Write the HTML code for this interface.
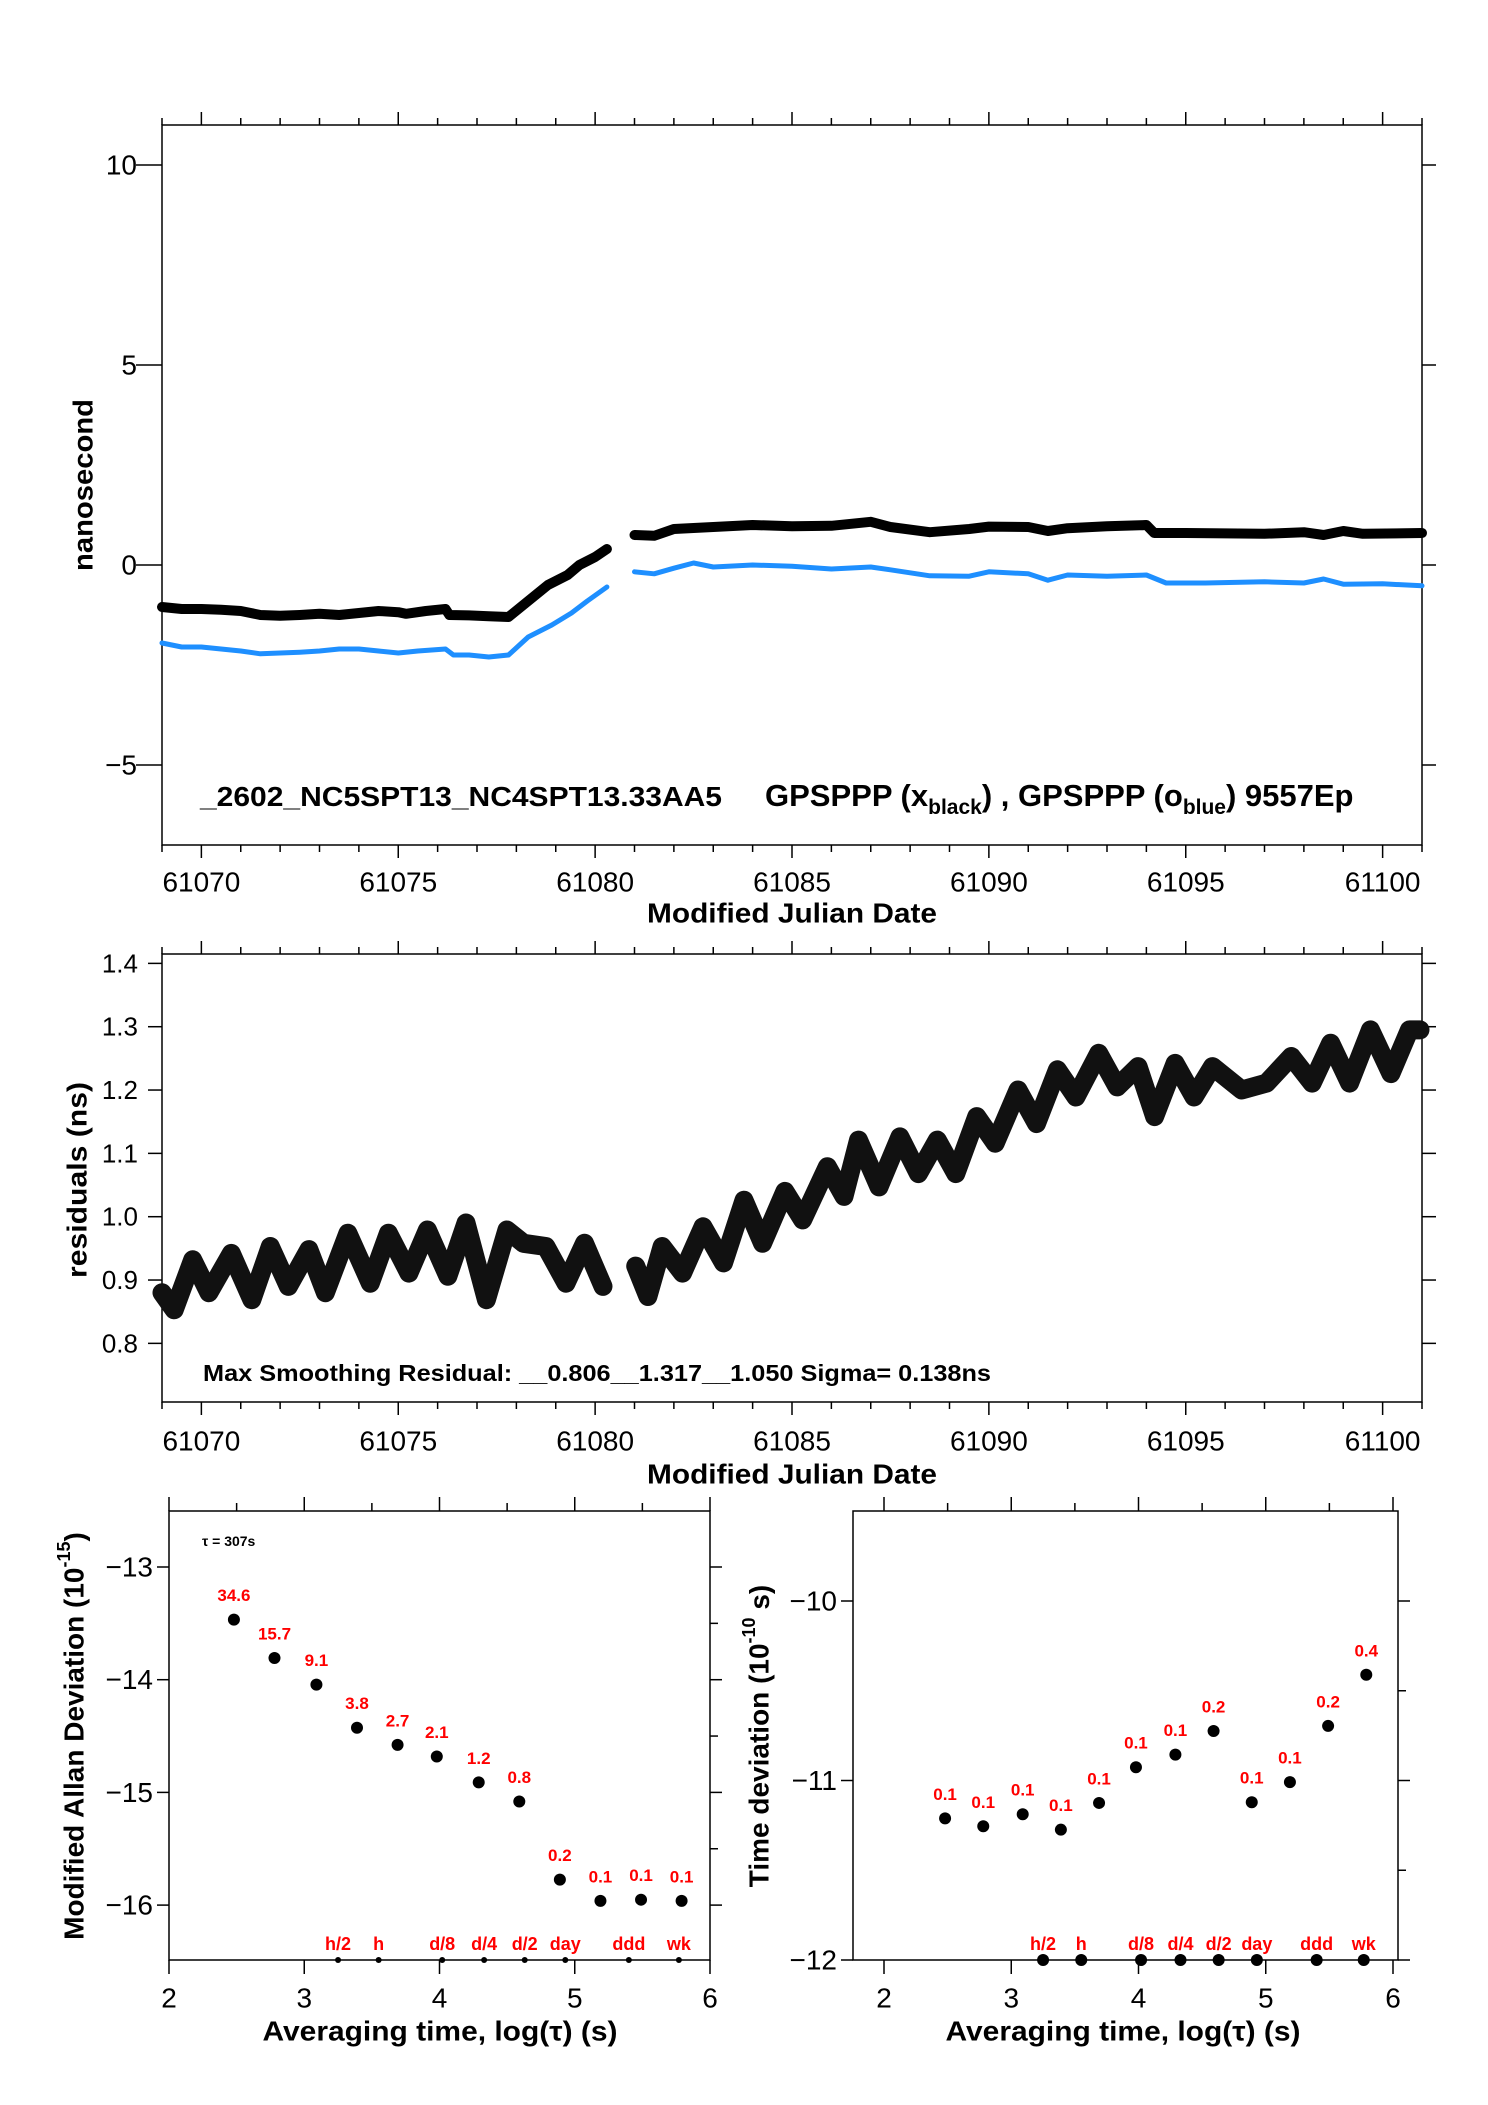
<!DOCTYPE html>
<html><head><meta charset="utf-8"><style>
html,body{margin:0;padding:0;background:#fff}
svg{display:block;font-family:"Liberation Sans",sans-serif}
</style></head><body>
<svg id="c" width="1488" height="2105" viewBox="0 0 1488 2105" xmlns="http://www.w3.org/2000/svg"></svg>
<script>
// ---------- data ----------
const blackDaysA=[61069,61069.5,61070,61070.5,61071,61071.5,61072,61072.5,61073,61073.5,61074,61074.5,61075,61075.2,61075.7,61076.2,61076.3,61076.8,61077.3,61077.8,61078.3,61078.8,61079.3,61079.6,61080,61080.3];
const blackValsA=[-1.05,-1.1,-1.1,-1.12,-1.15,-1.25,-1.27,-1.25,-1.22,-1.25,-1.2,-1.15,-1.18,-1.22,-1.15,-1.1,-1.25,-1.26,-1.28,-1.3,-0.9,-0.5,-0.25,0.0,0.2,0.4];
const blueDaysA=[61069,61069.5,61070,61070.5,61071,61071.5,61072,61072.5,61073,61073.5,61074,61074.5,61075,61075.5,61076.2,61076.4,61076.8,61077.3,61077.8,61078.3,61078.9,61079.4,61079.8,61080.3];
const blueValsA=[-1.95,-2.05,-2.05,-2.1,-2.15,-2.22,-2.2,-2.18,-2.15,-2.1,-2.1,-2.15,-2.2,-2.15,-2.1,-2.25,-2.25,-2.3,-2.25,-1.8,-1.5,-1.2,-0.9,-0.55];
const blackDaysB=[61081,61081.5,61082,61083,61084,61085,61086,61087,61087.5,61088.5,61089.5,61090,61091,61091.5,61092,61093,61094,61094.2,61095,61097,61098,61098.5,61099,61099.5,61101];
const blackValsB=[0.75,0.73,0.9,0.95,1.0,0.97,0.98,1.08,0.95,0.82,0.9,0.96,0.95,0.85,0.92,0.97,1.0,0.8,0.8,0.78,0.82,0.75,0.85,0.78,0.8];
const blueDaysB=[61081,61081.5,61082,61082.5,61083,61084,61085,61086,61087,61087.5,61088.5,61089.5,61090,61091,61091.5,61092,61093,61094,61094.5,61095.5,61097,61098,61098.5,61099,61100,61101];
const blueValsB=[-0.17,-0.22,-0.08,0.05,-0.05,0.0,-0.03,-0.1,-0.05,-0.12,-0.27,-0.28,-0.17,-0.22,-0.38,-0.25,-0.28,-0.25,-0.45,-0.45,-0.42,-0.45,-0.35,-0.48,-0.47,-0.52];

const resDaysA=[61069,61069.31,61069.78,61070.19,61070.76,61071.28,61071.75,61072.21,61072.73,61073.15,61073.72,61074.29,61074.75,61075.27,61075.74,61076.26,61076.72,61077.24,61077.76,61078.18,61078.75,61079.26,61079.73,61080.2];
const resValsA=[0.88,0.853,0.932,0.88,0.942,0.869,0.953,0.89,0.948,0.88,0.974,0.895,0.974,0.911,0.979,0.906,0.99,0.869,0.979,0.958,0.953,0.895,0.958,0.89];
const resDaysB=[61081.03,61081.34,61081.7,61082.22,61082.74,61083.26,61083.78,61084.25,61084.82,61085.27,61085.9,61086.32,61086.69,61087.21,61087.74,61088.21,61088.69,61089.16,61089.69,61090.16,61090.74,61091.21,61091.74,61092.21,61092.79,61093.26,61093.79,61094.21,61094.73,61095.21,61095.68,61096.42,61097.05,61097.68,61098.21,61098.68,61099.16,61099.69,61100.21,61100.68,61100.95];
const resValsB=[0.922,0.874,0.953,0.911,0.984,0.927,1.026,0.958,1.04,0.995,1.079,1.032,1.121,1.047,1.126,1.068,1.121,1.068,1.158,1.116,1.2,1.147,1.232,1.189,1.258,1.205,1.237,1.158,1.242,1.189,1.237,1.2,1.211,1.253,1.211,1.274,1.211,1.295,1.226,1.295,1.295];

const logTau=[2.48,2.78,3.09,3.39,3.69,3.98,4.29,4.59,4.89,5.19,5.49,5.79];
const madevVals=[-13.467,-13.807,-14.044,-14.426,-14.578,-14.681,-14.911,-15.081,-15.774,-15.963,-15.952,-15.963];
const madevLabels=["34.6","15.7","9.1","3.8","2.7","2.1","1.2","0.8","0.2","0.1","0.1","0.1"];
const tdevVals=[-11.211,-11.255,-11.188,-11.274,-11.125,-10.926,-10.856,-10.724,-11.121,-11.009,-10.696,-10.411];
const tdevLabels=["0.1","0.1","0.1","0.1","0.1","0.1","0.1","0.2","0.1","0.1","0.2","0.4"];
const markerNames=["h/2","h","d/8","d/4","d/2","day","ddd","wk"];
const markerLogs=[3.25,3.55,4.02,4.33,4.63,4.93,5.40,5.77];

const mjdTicks=[61070,61075,61080,61085,61090,61095,61100];
const topYTicks=[10,5,0,-5];
const resYTicks=[0.8,0.9,1.0,1.1,1.2,1.3,1.4];
const madevYTicks=[-13,-14,-15,-16];
const tdevYTicks=[-10,-11,-12];
const logXTicks=[2,3,4,5,6];

// ---------- helpers ----------
const svg=document.getElementById('c');
const NS='http://www.w3.org/2000/svg';
function mk(tag,attrs,parent){const e=document.createElementNS(NS,tag);for(const k in attrs)e.setAttribute(k,attrs[k]);(parent||svg).appendChild(e);return e;}
function txt(s,x,y,size,opts,parent){opts=opts||{};const t=mk('text',{x:x,y:y,'font-size':size,'text-anchor':opts.anchor||'middle','dominant-baseline':'central',fill:opts.fill||'#000','font-weight':opts.bold?'bold':'normal'},parent);if(opts.rot)t.setAttribute('transform','rotate(-90 '+x+' '+y+')');if(opts.len){t.setAttribute('textLength',opts.len);t.setAttribute('lengthAdjust','spacingAndGlyphs');}t.textContent=s;return t;}
function line(x1,y1,x2,y2,w,parent){return mk('line',{x1:x1,y1:y1,x2:x2,y2:y2,stroke:'#000','stroke-width':w||1.5},parent);}

// ---------- axes scales ----------
const X0=162,X1=1422,D0=61069,D1=61101;
const xd=d=>X0+(d-D0)/(D1-D0)*(X1-X0);
const yTop=v=>565-v*40;
const yRes=v=>1216.7-(v-1.0)*633.3;

function mjdFrame(top,bot,g){
  mk('rect',{x:X0,y:top,width:X1-X0,height:bot-top,fill:'none',stroke:'#000','stroke-width':1.5},g);
  for(let d=61069;d<=61101;d++){const x=xd(d);const major=(d%5===0);
    const L=major?13:7;
    line(x,top,x,top-L,1.5,g);
    line(x,bot,x,bot+L,1.5,g);}
}

// ---------- top panel ----------
const gTop=mk('g',{});


mjdFrame(125,845,gTop);
topYTicks.forEach(v=>{const y=yTop(v);line(X0-26,y,X0,y,1.5,gTop);line(X1,y,X1+14,y,1.5,gTop);
  const t=txt(v<0?'\u2212'+Math.abs(v):String(v),137,y,28,{anchor:'end'},gTop);
  });
mjdTicks.forEach(d=>{const t=txt(String(d),xd(d),882,28,{},gTop);
  });
let tt=txt('Modified Julian Date',792,913,28,{bold:true,len:290},gTop);

tt=txt('nanosecond',83,485,28,{bold:true,rot:true,len:172},gTop);


function poly(days,vals,yf,color,w,name,g){
  const pts=days.map((d,i)=>xd(d).toFixed(1)+','+yf(vals[i]).toFixed(1)).join(' ');
  const p=mk('polyline',{points:pts,fill:'none',stroke:color,'stroke-width':w,'stroke-linejoin':'round','stroke-linecap':'round'},g);
  
  
  return p;
}
poly(blueDaysA,blueValsA,yTop,'#1e8fff',5,'blue-series-segment-1',gTop);
poly(blueDaysB,blueValsB,yTop,'#1e8fff',5,'blue-series-segment-2',gTop);
poly(blackDaysA,blackValsA,yTop,'#000',10,'black-series-segment-1',gTop);
poly(blackDaysB,blackValsB,yTop,'#000',10,'black-series-segment-2',gTop);

const leg=mk('text',{x:200,y:806,'font-size':28,'font-weight':'bold'},gTop);


leg.innerHTML='<tspan textLength="522" lengthAdjust="spacingAndGlyphs">_2602_NC5SPT13_NC4SPT13.33AA5</tspan><tspan x="765" font-size="31">GPSPPP (x</tspan><tspan font-size="21" dy="8">black</tspan><tspan font-size="31" dy="-8">) ,  GPSPPP (o</tspan><tspan font-size="21" dy="8">blue</tspan><tspan font-size="31" dy="-8">)  9557Ep</tspan>';

// ---------- residual panel ----------
const gRes=mk('g',{});


mjdFrame(954,1402,gRes);
resYTicks.forEach(v=>{const y=yRes(v);line(X0-14,y,X0,y,1.5,gRes);line(X1,y,X1+14,y,1.5,gRes);
  const t=txt(v.toFixed(1),138,y,26,{anchor:'end'},gRes);
  });
mjdTicks.forEach(d=>{const t=txt(String(d),xd(d),1441,28,{},gRes);
  });
tt=txt('Modified Julian Date',792,1474,28,{bold:true,len:290},gRes);

tt=txt('residuals (ns)',77,1180,28,{bold:true,rot:true,len:196},gRes);

poly(resDaysA,resValsA,yRes,'#111',19,'residual-band-1',gRes);
poly(resDaysB,resValsB,yRes,'#111',19,'residual-band-2',gRes);
tt=txt('Max Smoothing Residual: __0.806__1.317__1.050  Sigma= 0.138ns',203,1373,23,{anchor:'start',bold:true,len:788},gRes);


// ---------- stability panels ----------
function stabPanel(opt){
  const g=mk('g',{});
  
  
  const {L,R,T,B,xa,xb,yb}=opt;
  const xs=v=>xa+(v-2)*xb; const ys=v=>opt.y0+(opt.v0-v)*yb;
  mk('rect',{x:L,y:T,width:R-L,height:B-T,fill:'none',stroke:'#000','stroke-width':1.5},g);
  for(let v=2;v<=6.01;v+=0.5){const x=xs(v);const maj=Math.abs(v-Math.round(v))<0.01;
    line(x,T,x,T-(maj?14:8),1.5,g);line(x,B,x,B+(maj?14:0),1.5,g);}
  logXTicks.forEach(v=>{const t=txt(String(v),xs(v),1998,28,{},g);
    });
  opt.yticks.forEach(v=>{const y=ys(v);line(L-12,y,L,y,1.5,g);line(R,y,R+12,y,1.5,g);
    const t=txt('\u2212'+Math.abs(v),L-16,y,28,{anchor:'end'},g);
    
    const h=ys(v+0.5); if(h>T+2){line(R,h,R+8,h,1.5,g);}
  });
  let t=txt('Averaging time, log(\u03c4) (s)',(opt.titleX),2031,28,{bold:true,len:355},g);
  
  t=mk('text',{x:opt.ylx,y:opt.yly,'font-size':28,'font-weight':'bold','text-anchor':'middle','dominant-baseline':'central',transform:'rotate(-90 '+opt.ylx+' '+opt.yly+')'},g);
  t.innerHTML=opt.ylabel;
  
  logTau.forEach((lx,i)=>{const cx=xs(lx),cy=ys(opt.vals[i]);
    const c=mk('circle',{cx:cx,cy:cy,r:6,fill:'#000'},g);
    
    const l=txt(opt.labels[i],cx,cy-24,17,{bold:true,fill:'#ff0000'},g);
    });
  markerNames.forEach((n,i)=>{const cx=xs(markerLogs[i]);
    const c=mk('circle',{cx:cx,cy:B,r:opt.mr,fill:'#000'},g);
    
    const l=txt(n,cx,1944,18,{bold:true,fill:'#ff0000'},g);
    });
  return g;
}
stabPanel({name:'modified-allan-deviation-panel',L:169,R:710,T:1511,B:1960,xa:169,xb:135.25,y0:1567,v0:-13,yb:112.7,
  yticks:madevYTicks,vals:madevVals,labels:madevLabels,titleX:440,ylx:74,yly:1736,mr:3,
  ylabel:'Modified Allan Deviation (10<tspan font-size="18" dy="-10">-15</tspan><tspan dy="10">)</tspan>'});
stabPanel({name:'time-deviation-panel',L:853,R:1398,T:1511,B:1960,xa:884,xb:127.25,y0:1601,v0:-10,yb:179.5,
  yticks:tdevYTicks,vals:tdevVals,labels:tdevLabels,titleX:1123,ylx:759,yly:1736,mr:6,
  ylabel:'Time deviation (10<tspan font-size="18" dy="-10">-10</tspan><tspan dy="10"> s)</tspan>'});
tt=txt('\u03c4 = 307s',202,1541,14,{anchor:'start',bold:true});

</script>
</body></html>
